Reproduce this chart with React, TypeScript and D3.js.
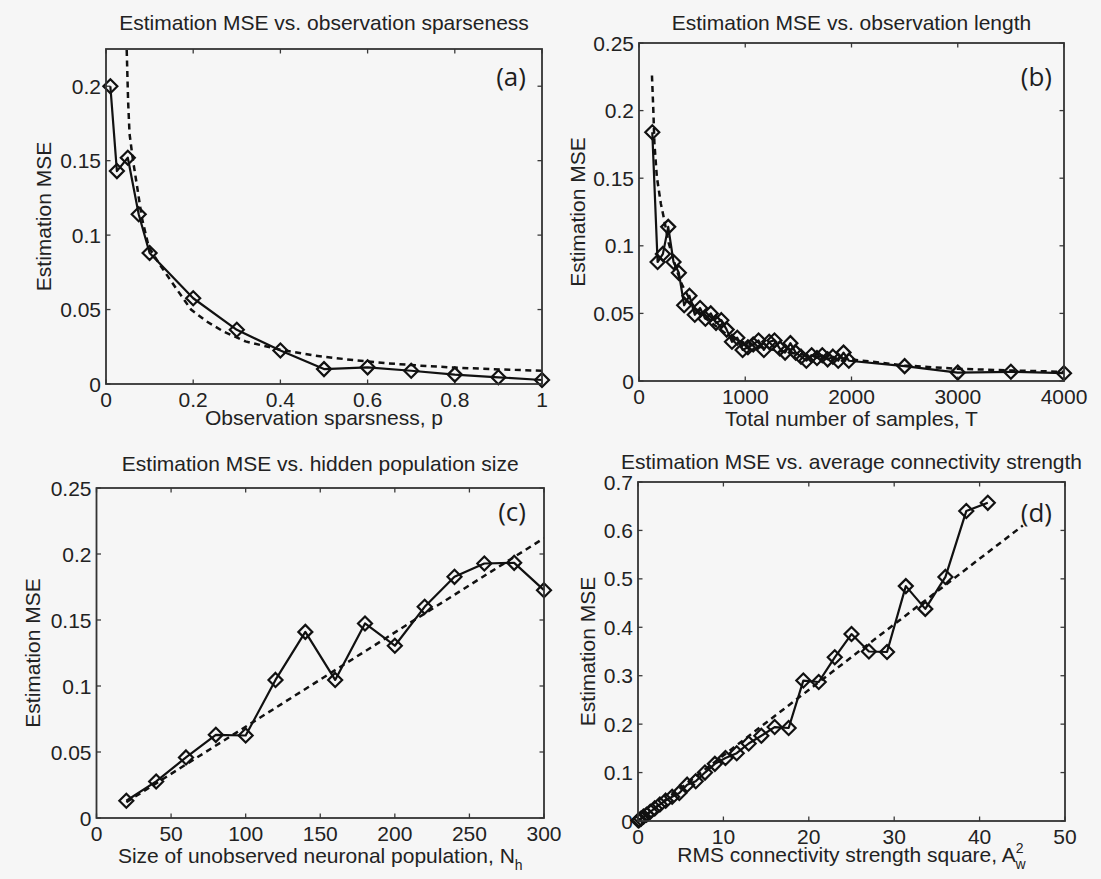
import React from "react";
import * as d3 from "d3";

const W = 1101;
const H = 879;

// (a) estimation error vs. observation sparseness p
const sparsenessP = [0.01, 0.025, 0.05, 0.075, 0.1, 0.2, 0.3, 0.4, 0.5, 0.6, 0.7, 0.8, 0.9, 1.0];
const sparsenessMSE = [0.2, 0.143, 0.152, 0.114, 0.088, 0.0576, 0.0364, 0.0225, 0.010, 0.0112, 0.0089, 0.0063, 0.0045, 0.0027];
const sparsenessFitP = [0.0475, 0.0507, 0.054, 0.062, 0.0717, 0.082, 0.098, 0.126, 0.159, 0.195, 0.231, 0.271, 0.32, 0.4, 0.48, 0.56, 0.64, 0.722, 0.8, 0.883, 1.0];
const sparsenessFitMSE = [0.2243, 0.19, 0.168, 0.15, 0.132, 0.112, 0.092, 0.079, 0.065, 0.05, 0.042, 0.035, 0.0286, 0.023, 0.019, 0.0163, 0.014, 0.0123, 0.011, 0.010, 0.0089];

// (b) estimation error vs. total number of samples T
const lengthT = [125, 175, 225, 275, 325, 375, 425, 475, 525, 575, 625, 675, 725, 775, 825, 875, 925, 975, 1025, 1075, 1125, 1175, 1225, 1275, 1325, 1375, 1425, 1475, 1525, 1575, 1625, 1675, 1725, 1775, 1825, 1875, 1925, 1975, 2500, 3000, 3500, 4000];
const lengthMSE = [0.184, 0.088, 0.094, 0.114, 0.088, 0.080, 0.056, 0.063, 0.049, 0.054, 0.046, 0.050, 0.043, 0.045, 0.038, 0.029, 0.032, 0.023, 0.025, 0.027, 0.030, 0.023, 0.029, 0.030, 0.024, 0.021, 0.028, 0.021, 0.018, 0.015, 0.019, 0.017, 0.019, 0.016, 0.018, 0.015, 0.021, 0.015, 0.0110, 0.0062, 0.0068, 0.0058];
const lengthFitT = [122, 135, 145, 168, 206, 230, 280, 350, 400, 500, 600, 700, 800, 900, 1000, 1200, 1400, 1600, 1800, 2000, 2500, 3000, 3500, 4000];
const lengthFitMSE = [0.226, 0.2, 0.176, 0.151, 0.131, 0.122, 0.102, 0.083, 0.072, 0.057, 0.048, 0.042, 0.036, 0.031, 0.028, 0.024, 0.021, 0.019, 0.017, 0.016, 0.0115, 0.009, 0.0078, 0.0068];

// (c) estimation error vs. hidden population size N_h
const hiddenN = [20, 40, 60, 80, 100, 120, 140, 160, 180, 200, 220, 240, 260, 280, 300];
const hiddenMSE = [0.0131, 0.0277, 0.0459, 0.063, 0.0625, 0.1046, 0.141, 0.1046, 0.1474, 0.1305, 0.16, 0.1827, 0.1928, 0.1933, 0.1726];
const hiddenFitN = [20, 300];
const hiddenFitMSE = [0.012, 0.212];

// (d) estimation error vs. RMS connectivity strength square A_w^2
const strengthA2 = [0.04, 0.16, 0.36, 0.64, 1, 1.44, 1.96, 2.56, 3.24, 4, 4.84, 5.76, 6.76, 7.84, 9, 10.24, 11.56, 12.96, 14.44, 16, 17.64, 19.36, 21.16, 23.04, 25, 27.04, 29.16, 31.36, 33.64, 36, 38.44, 40.96];
const strengthMSE = [0.001, 0.002, 0.005, 0.009, 0.013, 0.019, 0.026, 0.034, 0.042, 0.05, 0.058, 0.075, 0.082, 0.1, 0.118, 0.13, 0.14, 0.16, 0.176, 0.194, 0.192, 0.29, 0.287, 0.338, 0.386, 0.35, 0.349, 0.485, 0.438, 0.504, 0.64, 0.657];
const strengthFitA2 = [0, 45.06];
const strengthFitMSE = [0, 0.61];

// axis ticks
const ticksA_x = [0, 0.2, 0.4, 0.6, 0.8, 1];
const ticksA_y = [0, 0.05, 0.1, 0.15, 0.2];
const ticksB_x = [0, 1000, 2000, 3000, 4000];
const ticksB_y = [0, 0.05, 0.1, 0.15, 0.2, 0.25];
const ticksC_x = [0, 50, 100, 150, 200, 250, 300];
const ticksC_y = [0, 0.05, 0.1, 0.15, 0.2, 0.25];
const ticksD_x = [0, 10, 20, 30, 40, 50];
const ticksD_y = [0, 0.1, 0.2, 0.3, 0.4, 0.5, 0.6, 0.7];

const FONT = "'Liberation Sans', Arial, Helvetica, sans-serif";
const TEXT = "#222";
const INK = "#111";
const BG = "#f6f6f6";

const zip = (a: number[], b: number[]): [number, number][] => a.map((v, i) => [v, b[i]]);

type PanelCfg = {
  id: string;
  box: { x0: number; y0: number; x1: number; y1: number };
  xDomain: [number, number];
  yDomain: [number, number];
  xTicks: number[];
  yTicks: number[];
  title: string;
  titleY: number;
  xLabel: React.ReactNode;
  xLabelY: number;
  yLabelX: number;
  tag: string;
  tagX: number;
  tagY: number;
  data: [number, number][];
  fit: [number, number][];
};

const fmt = (v: number) => (v === 0 ? "0" : String(+v.toFixed(3)));

function Panel({ cfg }: { cfg: PanelCfg }) {
  const { x0, y0, x1, y1 } = cfg.box;
  const xs = d3.scaleLinear().domain(cfg.xDomain).range([x0, x1]);
  const ys = d3.scaleLinear().domain(cfg.yDomain).range([y1, y0]);
  const line = d3
    .line<[number, number]>()
    .x((d) => xs(d[0]))
    .y((d) => ys(d[1]));
  const tl = 4.5;
  const r = 7;
  const diamond = `M0,${-r}L${r},0L0,${r}L${-r},0Z`;
  return (
    <g>
      <defs>
        <clipPath id={`clip-${cfg.id}`}>
          <rect x={x0} y={y0} width={x1 - x0} height={y1 - y0} />
        </clipPath>
      </defs>
      <text x={(x0 + x1) / 2} y={cfg.titleY} textAnchor="middle" fontSize={21} fill={TEXT} fontFamily={FONT}>
        {cfg.title}
      </text>
      {/* tick marks point inward on all four sides */}
      {cfg.xTicks.map((t) => (
        <g key={`xt${t}`} stroke="#3a3a3a" strokeWidth={1.3}>
          <line x1={xs(t)} x2={xs(t)} y1={y1} y2={y1 - tl} />
          <line x1={xs(t)} x2={xs(t)} y1={y0} y2={y0 + tl} />
        </g>
      ))}
      {cfg.yTicks.map((t) => (
        <g key={`yt${t}`} stroke="#3a3a3a" strokeWidth={1.3}>
          <line x1={x0} x2={x0 + tl} y1={ys(t)} y2={ys(t)} />
          <line x1={x1} x2={x1 - tl} y1={ys(t)} y2={ys(t)} />
        </g>
      ))}
      {cfg.xTicks.map((t) => (
        <text key={`xl${t}`} x={xs(t)} y={y1 + 23} textAnchor="middle" fontSize={21} fill={TEXT} fontFamily={FONT}>
          {fmt(t)}
        </text>
      ))}
      {cfg.yTicks.map((t) => (
        <text key={`yl${t}`} x={x0 - 5} y={ys(t)} dy="0.36em" textAnchor="end" fontSize={21} fill={TEXT} fontFamily={FONT}>
          {fmt(t)}
        </text>
      ))}
      <text x={(x0 + x1) / 2} y={cfg.xLabelY} textAnchor="middle" fontSize={21} fill={TEXT} fontFamily={FONT}>
        {cfg.xLabel}
      </text>
      <text
        transform={`translate(${cfg.yLabelX},${(y0 + y1) / 2}) rotate(-90)`}
        textAnchor="middle"
        fontSize={21}
        fill={TEXT}
        fontFamily={FONT}
      >
        Estimation MSE
      </text>
      <g clipPath={`url(#clip-${cfg.id})`}>
        <path d={line(cfg.fit) || ""} fill="none" stroke={INK} strokeWidth={2.5} strokeDasharray="6 4.5" />
      </g>
      <path d={line(cfg.data) || ""} fill="none" stroke={INK} strokeWidth={2.2} strokeLinejoin="round" />
      {cfg.data.map((d, i) => (
        <path
          key={i}
          d={diamond}
          transform={`translate(${xs(d[0])},${ys(d[1])})`}
          fill="none"
          stroke={INK}
          strokeWidth={2.2}
        />
      ))}
      <rect x={x0} y={y0} width={x1 - x0} height={y1 - y0} fill="none" stroke="#333" strokeWidth={1.8} />
      <text x={cfg.tagX} y={cfg.tagY} textAnchor="end" fontSize={26} fill="#1e1e1e" fontFamily="'Open Sans', sans-serif">
        {cfg.tag}
      </text>
    </g>
  );
}

const panels: PanelCfg[] = [
  {
    id: "a",
    box: { x0: 106, y0: 49, x1: 542, y1: 384 },
    xDomain: [0, 1],
    yDomain: [0, 0.225],
    xTicks: ticksA_x,
    yTicks: ticksA_y,
    title: "Estimation MSE vs. observation sparseness",
    titleY: 30,
    xLabel: "Observation sparsness, p",
    xLabelY: 425,
    yLabelX: 51,
    tag: "(a)",
    tagX: 526,
    tagY: 86,
    data: zip(sparsenessP, sparsenessMSE),
    fit: zip(sparsenessFitP, sparsenessFitMSE),
  },
  {
    id: "b",
    box: { x0: 639, y0: 43, x1: 1064, y1: 381 },
    xDomain: [0, 4000],
    yDomain: [0, 0.25],
    xTicks: ticksB_x,
    yTicks: ticksB_y,
    title: "Estimation MSE vs. observation length",
    titleY: 30,
    xLabel: "Total number of samples, T",
    xLabelY: 426,
    yLabelX: 585,
    tag: "(b)",
    tagX: 1052,
    tagY: 86,
    data: zip(lengthT, lengthMSE),
    fit: zip(lengthFitT, lengthFitMSE),
  },
  {
    id: "c",
    box: { x0: 96.5, y0: 488, x1: 544, y1: 818 },
    xDomain: [0, 300],
    yDomain: [0, 0.25],
    xTicks: ticksC_x,
    yTicks: ticksC_y,
    title: "Estimation MSE vs. hidden population size",
    titleY: 470.5,
    xLabel: (
      <>
        <tspan>Size of unobserved neuronal population, N</tspan>
        <tspan dy={7} fontSize={14}>
          h
        </tspan>
      </>
    ),
    xLabelY: 863,
    yLabelX: 40,
    tag: "(c)",
    tagX: 526,
    tagY: 521,
    data: zip(hiddenN, hiddenMSE),
    fit: zip(hiddenFitN, hiddenFitMSE),
  },
  {
    id: "d",
    box: { x0: 638, y0: 482, x1: 1065, y1: 821 },
    xDomain: [0, 50],
    yDomain: [0, 0.7],
    xTicks: ticksD_x,
    yTicks: ticksD_y,
    title: "Estimation MSE vs. average connectivity strength",
    titleY: 469,
    xLabel: (
      <>
        <tspan>RMS connectivity strength square, A</tspan>
        <tspan dy={-9} fontSize={14}>
          2
        </tspan>
        <tspan dx={-8} dy={16} fontSize={14}>
          w
        </tspan>
      </>
    ),
    xLabelY: 862,
    yLabelX: 595,
    tag: "(d)",
    tagX: 1052,
    tagY: 522,
    data: zip(strengthA2, strengthMSE),
    fit: zip(strengthFitA2, strengthFitMSE),
  },
];

export default function App() {
  return (
    <svg
      width={W}
      height={H}
      viewBox={`0 0 ${W} ${H}`}
      style={{ position: "absolute", left: 0, top: 0, display: "block", background: BG }}
    >
      <rect x={0} y={0} width={W} height={H} fill={BG} />
      {panels.map((p) => (
        <Panel key={p.id} cfg={p} />
      ))}
    </svg>
  );
}
